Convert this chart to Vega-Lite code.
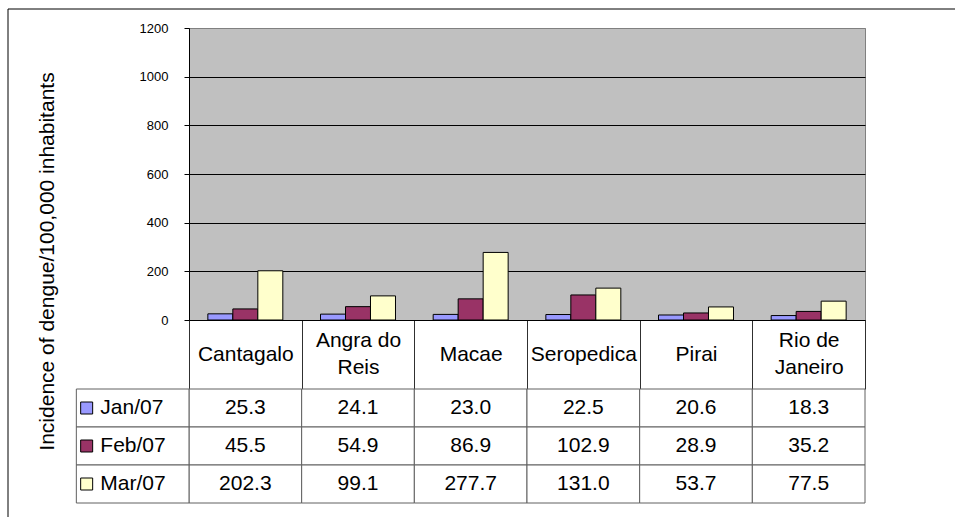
{
  "$schema": "https://vega.github.io/schema/vega-lite/v6.json",
  "width": 676,
  "height": 292,
  "autosize": {"type": "none"},
  "padding": {"left": 189, "top": 28, "right": 91, "bottom": 197},
  "background": "white",
  "config": {
    "font": "Liberation Sans",
    "view": {"fill": "#C0C0C0", "stroke": "#808080", "strokeWidth": 1}
  },
  "data": {
    "values": [
      {"city": "Cantagalo", "month": "Jan/07", "value": 25.3},
      {"city": "Angra do Reis", "month": "Jan/07", "value": 24.1},
      {"city": "Macae", "month": "Jan/07", "value": 23.0},
      {"city": "Seropedica", "month": "Jan/07", "value": 22.5},
      {"city": "Pirai", "month": "Jan/07", "value": 20.6},
      {"city": "Rio de Janeiro", "month": "Jan/07", "value": 18.3},
      {"city": "Cantagalo", "month": "Feb/07", "value": 45.5},
      {"city": "Angra do Reis", "month": "Feb/07", "value": 54.9},
      {"city": "Macae", "month": "Feb/07", "value": 86.9},
      {"city": "Seropedica", "month": "Feb/07", "value": 102.9},
      {"city": "Pirai", "month": "Feb/07", "value": 28.9},
      {"city": "Rio de Janeiro", "month": "Feb/07", "value": 35.2},
      {"city": "Cantagalo", "month": "Mar/07", "value": 202.3},
      {"city": "Angra do Reis", "month": "Mar/07", "value": 99.1},
      {"city": "Macae", "month": "Mar/07", "value": 277.7},
      {"city": "Seropedica", "month": "Mar/07", "value": 131.0},
      {"city": "Pirai", "month": "Mar/07", "value": 53.7},
      {"city": "Rio de Janeiro", "month": "Mar/07", "value": 77.5}
    ]
  },
  "layer": [
    {
      "mark": {"type": "bar", "stroke": "black", "strokeWidth": 1},
      "encoding": {
        "x": {
          "field": "city",
          "type": "nominal",
          "sort": null,
          "scale": {
            "domain": ["Cantagalo", "Angra do Reis", "Macae", "Seropedica", "Pirai", "Rio de Janeiro"],
            "paddingInner": 0,
            "paddingOuter": 0
          },
          "axis": {
            "title": null,
            "grid": false,
            "domain": true,
            "domainColor": "black",
            "ticks": true,
            "tickBand": "extent",
            "tickSize": 69,
            "tickColor": "#303030",
            "labelFontSize": 21,
            "labelColor": "black",
            "labelAngle": 0,
            "labelBaseline": "middle",
            "labelPadding": {"condition": {"test": "datum.value == 'Angra do Reis' || datum.value == 'Rio de Janeiro'", "value": -49}, "value": -34.5},
            "labelLineHeight": 27,
            "labelOverlap": false,
            "labelBound": false,
            "labelLimit": 0,
            "labelExpr": "datum.label == 'Angra do Reis' ? ['Angra do', 'Reis'] : datum.label == 'Rio de Janeiro' ? ['Rio de', 'Janeiro'] : datum.label"
          }
        },
        "xOffset": {
          "field": "month",
          "type": "nominal",
          "sort": null,
          "scale": {"domain": ["Jan/07", "Feb/07", "Mar/07"], "paddingInner": 0, "paddingOuter": 0.754}
        },
        "y": {
          "field": "value",
          "type": "quantitative",
          "scale": {"domain": [0, 1200], "nice": false},
          "axis": {
            "values": [0, 200, 400, 600, 800, 1000, 1200],
            "format": "d",
            "title": "Incidence of dengue/100,000 inhabitants",
            "titleFontSize": 21,
            "titleFontWeight": "normal",
            "titleColor": "black",
            "titleX": -136,
            "titleY": 233,
            "titleAlign": "center",
            "titleBaseline": "alphabetic",
            "labelFontSize": 13,
            "labelColor": "black",
            "labelPadding": 16,
            "tickSize": 5,
            "tickColor": "black",
            "domainColor": "black",
            "grid": true,
            "gridOpacity": 1,
            "gridWidth": 1,
            "gridColor": {"condition": {"test": "datum.value === 1200", "value": "#808080"}, "value": "black"}
          }
        },
        "color": {
          "field": "month",
          "type": "nominal",
          "scale": {"domain": ["Jan/07", "Feb/07", "Mar/07"], "range": ["#9999FF", "#993366", "#FFFFCC"]},
          "legend": null
        }
      }
    },
    {
      "layer": [
        {
          "mark": {"type": "rect", "fill": "white", "stroke": "#606060", "strokeWidth": 1},
          "encoding": {
            "x": {
              "field": "city",
              "type": "nominal",
              "scale": {
                "type": "band",
                "domain": ["__legend", "Cantagalo", "Angra do Reis", "Macae", "Seropedica", "Pirai", "Rio de Janeiro"],
                "range": [-112.67, 676],
                "paddingInner": 0,
                "paddingOuter": 0
              },
              "axis": null
            },
            "y": {
              "field": "month",
              "type": "nominal",
              "scale": {
                "type": "band",
                "domain": ["Jan/07", "Feb/07", "Mar/07"],
                "range": [361, 475],
                "paddingInner": 0,
                "paddingOuter": 0
              },
              "axis": null
            }
          }
        },
        {
          "mark": {"type": "text", "fontSize": 21, "color": "black"},
          "encoding": {
            "x": {"field": "city", "type": "nominal", "axis": null},
            "y": {"field": "month", "type": "nominal", "axis": null},
            "text": {"field": "value", "type": "quantitative", "format": ".1f"}
          }
        },
        {
          "transform": [{"aggregate": [{"op": "count", "as": "n"}], "groupby": ["month"]}],
          "layer": [
            {
              "mark": {"type": "rect", "fill": "white", "stroke": "#606060", "strokeWidth": 1},
              "encoding": {
                "x": {"datum": "__legend", "type": "nominal", "axis": null},
                "y": {"field": "month", "type": "nominal", "axis": null}
              }
            },
            {
              "mark": {"type": "point", "shape": "square", "filled": true, "size": 144, "stroke": "black", "strokeWidth": 1, "opacity": 1, "xOffset": -46},
              "encoding": {
                "x": {"datum": "__legend", "type": "nominal", "axis": null},
                "y": {"field": "month", "type": "nominal", "axis": null},
                "color": {"field": "month", "type": "nominal", "legend": null}
              }
            },
            {
              "mark": {"type": "text", "align": "left", "dx": 24, "fontSize": 21, "color": "black"},
              "encoding": {
                "x": {"datum": "__legend", "type": "nominal", "bandPosition": 0, "axis": null},
                "y": {"field": "month", "type": "nominal", "axis": null},
                "text": {"field": "month", "type": "nominal"}
              }
            }
          ]
        }
      ]
    },
    {
      "data": {"values": [{"frame": 1}]},
      "mark": {"type": "rect", "filled": false, "stroke": "black", "strokeWidth": 1},
      "encoding": {
        "x": {"datum": 0, "type": "quantitative", "scale": {"domain": [0, 1], "range": [-181, 768]}, "axis": null},
        "x2": {"datum": 1},
        "y": {"datum": 0, "type": "quantitative", "scale": {"domain": [0, 1], "range": [-19, 491]}, "axis": null},
        "y2": {"datum": 1}
      }
    }
  ],
  "resolve": {"scale": {"x": "independent", "y": "independent"}}
}
